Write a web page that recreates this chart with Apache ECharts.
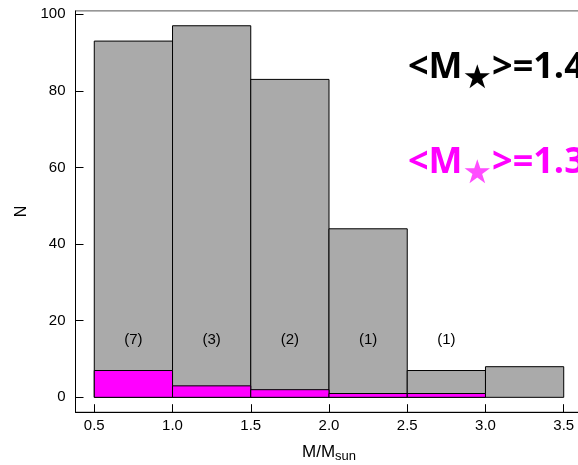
<!DOCTYPE html>
<html><head><meta charset="utf-8">
<script src="https://cdn.jsdelivr.net/npm/echarts@6/dist/echarts.min.js"></script>
<style>html,body{margin:0;padding:0;background:#fff}#c{width:578px;height:465px}</style>
</head><body><div id="c"></div>
<script>
const binEdges = [0.5, 1.0, 1.5, 2.0, 2.5, 3.0, 3.5];
const totalCounts = [93, 97, 83, 44, 7, 8];
const subsetCounts = [7, 3, 2, 1, 1, 0];
const subsetLabels = ['(7)', '(3)', '(2)', '(1)', '(1)'];
const labelLevel = 15;
const xTicks = [0.5, 1.0, 1.5, 2.0, 2.5, 3.0, 3.5];
const yTicks = [0, 20, 40, 60, 80, 100];
const meanAll = '1.4';
const meanSubset = '1.3';

function binData(counts) {
  return counts.map((c, i) => [binEdges[i], binEdges[i + 1], c]);
}
function labelData() {
  return subsetLabels.map((t, i) => [(binEdges[i] + binEdges[i + 1]) / 2, labelLevel]);
}
function makeRender(fill) {
  return function (params, api) {
    const x0 = api.value(0), x1 = api.value(1), v = api.value(2);
    if (!(v > 0)) return null;
    const p0 = api.coord([x0, v]);
    const p1 = api.coord([x1, 0]);
    return {
      type: 'rect',
      shape: { x: p0[0], y: p0[1], width: p1[0] - p0[0], height: p1[1] - p0[1] },
      style: { fill: fill, stroke: '#000', lineWidth: 1 }
    };
  };
}

const chart = echarts.init(document.getElementById('c'), null, { renderer: 'canvas' });
const tickFont = 'Liberation Sans';
const bigFont = 'Open Sans';
chart.setOption({
  animation: false,
  backgroundColor: '#fff',
  grid: { left: 75.5, top: 10.9, width: 507, height: 401.3, show: true, borderColor: '#555', borderWidth: 1, containLabel: false, outerBoundsMode: 'none' },
  title: [
    {
      left: 408, top: 39, padding: 0,
      text: '{a|<M}{s|★}{a|>=' + meanAll + '}',
      textStyle: {
        rich: {
          a: { fontSize: 36, fontWeight: 'bold', fontFamily: bigFont, color: '#000' },
          s: { fontSize: 33, fontFamily: 'DejaVu Sans', color: '#000', padding: [24, 0, 0, 0] }
        }
      }
    },
    {
      left: 408, top: 134, padding: 0,
      text: '{a|<M}{s|★}{a|>=' + meanSubset + '}',
      textStyle: {
        rich: {
          a: { fontSize: 36, fontWeight: 'bold', fontFamily: bigFont, color: '#ff00ff' },
          s: { fontSize: 33, fontFamily: 'DejaVu Sans', color: '#ff4dff', padding: [24, 0, 0, 0] }
        }
      }
    }
  ],
  xAxis: {
    type: 'value', min: 0.38, max: 3.62,
    name: '{m|M/M}{s|sun}',
    nameLocation: 'middle', nameGap: 30,
    nameTextStyle: {
      rich: {
        m: { fontSize: 17, fontFamily: tickFont, color: '#000' },
        s: { fontSize: 13, fontFamily: tickFont, color: '#000', padding: [8, 0, 0, 0] }
      }
    },
    axisLine: { show: true, onZero: false, lineStyle: { color: '#000', width: 1 } },
    axisTick: { show: true, inside: true, length: 8, customValues: xTicks, lineStyle: { color: '#000' } },
    axisLabel: { customValues: xTicks, formatter: v => v.toFixed(1), fontSize: 15, fontFamily: tickFont, color: '#000', margin: 6 },
    splitLine: { show: false }
  },
  yAxis: {
    type: 'value', min: -3.88, max: 100.88,
    name: 'N', nameLocation: 'middle', nameGap: 42, nameRotate: 90,
    nameTextStyle: { fontSize: 16, fontFamily: tickFont, color: '#000' },
    axisLine: { show: true, onZero: false, lineStyle: { color: '#000', width: 1 } },
    axisTick: { show: true, inside: true, length: 8, customValues: yTicks, lineStyle: { color: '#000' } },
    axisLabel: { customValues: yTicks, fontSize: 15, fontFamily: tickFont, color: '#000', margin: 10 },
    splitLine: { show: false }
  },
  series: [
    { type: 'custom', name: 'all', renderItem: makeRender('#aaaaaa'), data: binData(totalCounts), encode: { x: [0, 1], y: 2 }, z: 2 },
    { type: 'custom', name: 'subset', renderItem: makeRender('#ff00ff'), data: binData(subsetCounts), encode: { x: [0, 1], y: 2 }, z: 3 },
    {
      type: 'custom', name: 'labels', data: labelData(), encode: { x: 0, y: 1 }, z: 4,
      renderItem: function (params, api) {
        const p = api.coord([api.value(0), api.value(1)]);
        return { type: 'text', x: p[0], y: p[1], style: { text: subsetLabels[params.dataIndex], fill: '#000', font: '15px "Liberation Sans"', align: 'center', verticalAlign: 'middle' } };
      }
    }
  ]
});
</script></body></html>
